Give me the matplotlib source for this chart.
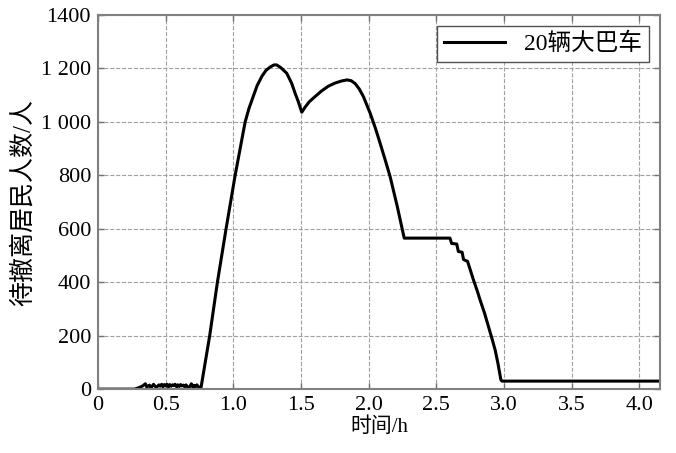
import matplotlib
matplotlib.use('Agg')
import matplotlib.pyplot as plt

plt.rcParams['font.family'] = ['Liberation Serif', 'Noto Sans CJK SC']
plt.rcParams['axes.unicode_minus'] = False

# time (h) and residents still waiting
t = [0.00, 0.27, 0.30, 0.33, 0.35, 0.36, 0.38, 0.39, 0.41, 0.43, 0.45, 0.46,
     0.47, 0.48, 0.49, 0.50, 0.51, 0.52, 0.53, 0.54, 0.55, 0.56, 0.57, 0.58,
     0.59, 0.60, 0.61, 0.62, 0.63, 0.64, 0.65, 0.67, 0.69, 0.70, 0.71, 0.72,
     0.73, 0.74, 0.759,
     0.825, 0.882, 0.946, 1.013, 1.05, 1.087, 1.115, 1.143, 1.175, 1.21,
     1.24, 1.271, 1.30, 1.32, 1.35, 1.394, 1.43, 1.456, 1.48, 1.505,
     1.53, 1.56, 1.60, 1.65, 1.70, 1.75, 1.80, 1.84, 1.87, 1.90, 1.93,
     1.96, 2.01, 2.05, 2.084, 2.12, 2.158, 2.21, 2.262,
     2.60, 2.612, 2.65, 2.662, 2.69, 2.70, 2.73, 2.774, 2.80, 2.823,
     2.855, 2.885, 2.91, 2.934, 2.955, 2.976, 2.985, 4.15]
people = [0, 0, 5, 12, 20, 8, 15, 4, 18, 6, 16, 11,
          18, 9, 17, 12, 18, 8, 17, 11, 16, 13, 18, 9,
          16, 10, 17, 12, 15, 9, 16, 3, 20, 8, 14, 9,
          16, 10, 0,
          200, 400, 600, 800, 900, 1000, 1050, 1090, 1135, 1170,
          1192, 1205, 1213, 1213, 1203, 1182, 1145, 1107, 1075, 1036,
          1055, 1075, 1093, 1115, 1133, 1145, 1153, 1157, 1154, 1143, 1123,
          1095, 1033, 975, 920, 860, 795, 685, 565,
          565, 545, 543, 515, 512, 485, 478, 408, 370, 333,
          285, 233, 190, 146, 95, 35, 30, 30]

x_ticks = [0, 0.5, 1.0, 1.5, 2.0, 2.5, 3.0, 3.5, 4.0]
x_labels = ['0', '0.5', '1.0', '1.5', '2.0', '2.5', '3.0', '3.5', '4.0']
y_ticks = [0, 200, 400, 600, 800, 1000, 1200, 1400]
y_labels = ['0', '200', '400', '600', '800', '1 000', '1 200', '1400']

fig = plt.figure(figsize=(6.76, 4.53), dpi=100)
ax = fig.add_axes([0.145, 0.141, 0.831, 0.826])

ax.plot(t, people, color='black', linewidth=2.2, label='20辆大巴车')

ax.set_xlim(0, 4.15)
ax.set_ylim(0, 1400)
ax.set_xticks(x_ticks)
ax.set_xticklabels(x_labels)
ax.set_yticks(y_ticks)
ax.set_yticklabels(y_labels)
ax.tick_params(direction='in', top=True, right=True, length=4, width=1,
               color='#707070', labelsize=16, pad=5)

for s in ax.spines.values():
    s.set_color('#808080')
    s.set_linewidth(1.5)

ax.grid(True, linestyle='--', color='#a0a0a0', linewidth=0.8)

ax.set_xlabel('时间/h', fontsize=15, labelpad=2)
ax.set_ylabel('待撤离居民人数/人', fontsize=18, labelpad=4)

leg = ax.legend(loc='upper right', fontsize=17, fancybox=False,
                framealpha=1, edgecolor='#505050', handlelength=2.6,
                borderpad=0.3, borderaxespad=0.45, bbox_to_anchor=(1.0, 1.0))
leg.get_frame().set_linewidth(1.0)

fig.savefig('out.png', dpi=100)
